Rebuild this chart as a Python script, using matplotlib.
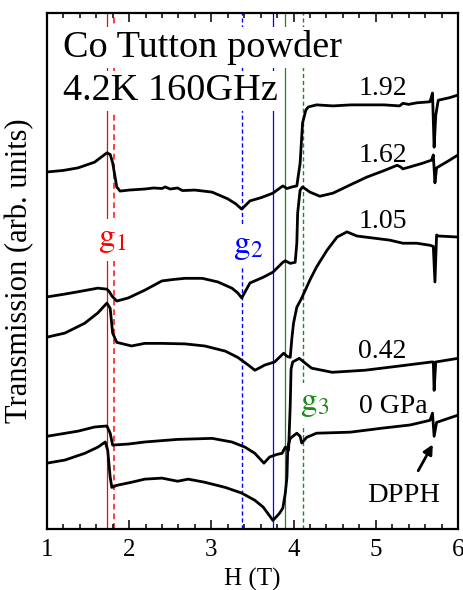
import matplotlib
matplotlib.use("Agg")
import matplotlib.pyplot as plt
from matplotlib.ticker import MultipleLocator

# field H (T) and transmission (arb. units, stacked)
h_192 = [1.00, 1.20, 1.38, 1.58, 1.73, 1.77, 1.80, 1.85, 1.89, 2.00, 2.19, 2.30, 2.40, 2.44, 2.50,
         2.59, 2.65, 2.80, 3.01, 3.20, 3.30, 3.37, 3.47, 3.60, 3.75, 3.87, 3.92, 3.98, 4.04, 4.08,
         4.11, 4.15, 4.18, 4.28, 4.48, 4.70, 4.89, 5.10, 5.29, 5.33, 5.40, 5.50, 5.66, 5.69, 5.71,
         5.73, 5.76, 5.90, 6.00]
t_192 = [6.92, 6.95, 7.00, 7.11, 7.29, 7.26, 7.10, 6.63, 6.55, 6.57, 6.59, 6.61, 6.60, 6.63, 6.59,
         6.61, 6.56, 6.57, 6.53, 6.40, 6.30, 6.20, 6.36, 6.42, 6.51, 6.65, 6.60, 6.63, 6.65, 7.09,
         7.87, 8.12, 8.18, 8.22, 8.20, 8.22, 8.22, 8.22, 8.20, 8.25, 8.23, 8.26, 8.28, 8.45, 7.40,
         8.02, 8.31, 8.36, 8.41]

h_162 = [1.00, 1.20, 1.38, 1.62, 1.73, 1.76, 1.79, 1.85, 1.99, 2.19, 2.40, 2.55, 2.68, 2.89, 3.08,
         3.25, 3.32, 3.37, 3.47, 3.63, 3.75, 3.87, 3.90, 3.96, 4.02, 4.04, 4.05, 4.08, 4.11, 4.20,
         4.32, 4.48, 4.69, 4.89, 5.09, 5.26, 5.30, 5.33, 5.42, 5.57, 5.68, 5.70, 5.72, 5.74, 5.90,
         6.00]
t_162 = [4.50, 4.55, 4.60, 4.67, 4.65, 4.60, 4.52, 4.42, 4.48, 4.63, 4.81, 4.84, 4.86, 4.86, 4.79,
         4.67, 4.58, 4.48, 4.77, 4.88, 4.98, 5.17, 5.20, 5.15, 5.17, 5.54, 6.12, 6.57, 6.63, 6.53,
         6.45, 6.51, 6.67, 6.82, 6.94, 7.05, 7.02, 6.98, 7.02, 7.09, 7.15, 7.25, 6.71, 7.00, 7.15,
         7.25]

h_105 = [1.00, 1.22, 1.46, 1.62, 1.73, 1.77, 1.80, 1.85, 2.03, 2.19, 2.40, 2.68, 2.92, 3.17, 3.32,
         3.45, 3.53, 3.58, 3.65, 3.77, 3.88, 3.92, 3.96, 3.98, 4.00, 4.04, 4.10, 4.20, 4.28, 4.41,
         4.53, 4.65, 4.77, 4.97, 5.17, 5.33, 5.50, 5.66, 5.70, 5.72, 5.74, 5.76, 6.00]
t_105 = [3.72, 3.80, 3.99, 4.19, 4.38, 4.28, 3.80, 3.62, 3.55, 3.60, 3.60, 3.59, 3.55, 3.45, 3.33,
         3.18, 3.08, 3.12, 3.18, 3.24, 3.41, 3.35, 3.33, 3.70, 3.99, 4.30, 4.48, 4.83, 5.08, 5.41,
         5.66, 5.76, 5.68, 5.64, 5.60, 5.54, 5.54, 5.50, 5.48, 4.79, 5.70, 5.68, 5.66]

h_042 = [1.00, 1.38, 1.58, 1.73, 1.77, 1.80, 1.99, 2.19, 2.59, 3.01, 3.25, 3.41, 3.53, 3.64, 3.71,
         3.80, 3.86, 3.90, 3.94, 3.96, 3.97, 3.99, 4.07, 4.14, 4.22, 4.47, 4.87, 5.28, 5.68, 5.70,
         5.71, 5.73, 6.00]
t_042 = [1.80, 1.90, 1.98, 2.00, 1.86, 1.63, 1.65, 1.69, 1.74, 1.76, 1.69, 1.59, 1.47, 1.28, 1.40,
         1.45, 1.47, 1.59, 1.53, 2.40, 3.10, 3.24, 3.31, 3.22, 3.12, 3.04, 3.08, 3.16, 3.24, 3.24,
         2.69, 3.24, 3.31]

h_000 = [1.00, 1.22, 1.46, 1.62, 1.71, 1.74, 1.77, 1.79, 1.85, 2.03, 2.19, 2.40, 2.59, 2.72, 2.92,
         3.17, 3.37, 3.53, 3.63, 3.70, 3.75, 3.83, 3.87, 3.90, 3.92, 3.93, 3.96, 4.04, 4.08, 4.10,
         4.16, 4.28, 4.69, 5.09, 5.42, 5.50, 5.66, 5.69, 5.71, 5.74, 6.00]
t_000 = [1.28, 1.34, 1.47, 1.59, 1.69, 1.53, 1.01, 0.81, 0.85, 0.91, 0.97, 0.99, 0.93, 0.97, 0.91,
         0.81, 0.70, 0.56, 0.43, 0.28, 0.17, 0.31, 0.41, 0.70, 1.01, 1.59, 1.76, 1.86, 1.80, 1.67,
         1.78, 1.86, 1.88, 1.96, 2.02, 2.05, 2.11, 2.25, 1.80, 2.07, 2.21]

pressures = ["1.92", "1.62", "1.05", "0.42", "0 GPa"]
label_h = [5.09, 5.09, 5.09, 5.08, 5.215]
label_t = [8.41, 7.11, 5.83, 3.31, 2.25]

# g-value resonance fields: solid / dashed
g1_fields = [1.726, 1.815]
g2_fields = [3.75, 3.37]
g3_fields = [3.90, 4.115]

plt.rcParams["font.family"] = ["Liberation Serif", "DejaVu Serif"]
plt.rcParams["mathtext.fontset"] = "stix"

fig = plt.figure(figsize=(4.64, 5.90), dpi=100)
ax = fig.add_axes([0.101, 0.103, 0.886, 0.875])

red, blue, green = "#ff0000", "#0000ff", "#1a8a1a"
for fields, col in [(g1_fields, red), (g2_fields, blue), (g3_fields, green)]:
    ax.axvline(fields[0], color=col, lw=0.9, zorder=1)
    ax.axvline(fields[1], color=col, lw=1.4 if col == red else 1.0, ls=(0, (3, 2)),
               alpha=0.75 if col == red else 1.0, zorder=1)

for h, t in [(h_192, t_192), (h_162, t_162), (h_105, t_105), (h_042, t_042), (h_000, t_000)]:
    ax.plot(h, t, color="black", lw=2.0, zorder=3, solid_joinstyle="round")

white = dict(facecolor="white", edgecolor="none", pad=2)
ax.text(0.039, 0.915, "Co Tutton powder", transform=ax.transAxes, fontsize=27.5,
        va="baseline", bbox=white, zorder=2)
ax.text(0.039, 0.831, "4.2K 160GHz", transform=ax.transAxes, fontsize=27.5,
        va="baseline", bbox=white, zorder=2)

for lab, x, y in zip(pressures, label_h, label_t):
    ax.text(x, y, lab, fontsize=20, ha="center", va="baseline", zorder=4)

gbox = dict(facecolor="white", edgecolor="none", pad=4)
ax.text(1.62, 5.48, r"$\mathrm{g}_1$", color=red, fontsize=24, va="baseline", bbox=gbox, zorder=2)
ax.text(3.26, 5.35, r"$\mathrm{g}_2$", color=blue, fontsize=24, va="baseline", bbox=gbox, zorder=2)
ax.text(4.08, 2.31, r"$\mathrm{g}_3$", color=green, fontsize=24, va="baseline", bbox=gbox, zorder=2)

ax.text(5.34, 0.52, "DPPH", fontsize=20.5, ha="center", va="baseline", zorder=4)
ax.annotate("", xy=(5.71, 1.69), xytext=(5.50, 1.085),
            arrowprops=dict(arrowstyle="-|>", color="black", lw=2, mutation_scale=14), zorder=4)

ax.set_xlim(1, 6)
ax.set_ylim(0, 10)
ax.set_yticks([])
ax.xaxis.set_major_locator(MultipleLocator(1))
ax.xaxis.set_minor_locator(MultipleLocator(0.2))
ax.tick_params(axis="x", which="both", direction="in", top=True, labelsize=18, width=1.1, pad=7)
ax.tick_params(axis="x", which="major", length=6.5)
ax.tick_params(axis="x", which="minor", length=3.5)
for s in ax.spines.values():
    s.set_linewidth(1.6)

ax.set_xlabel("H (T)", fontsize=18, labelpad=5)
ax.set_ylabel("Transmission (arb. units)", fontsize=22, labelpad=9)

fig.savefig("out.png", dpi=100)
